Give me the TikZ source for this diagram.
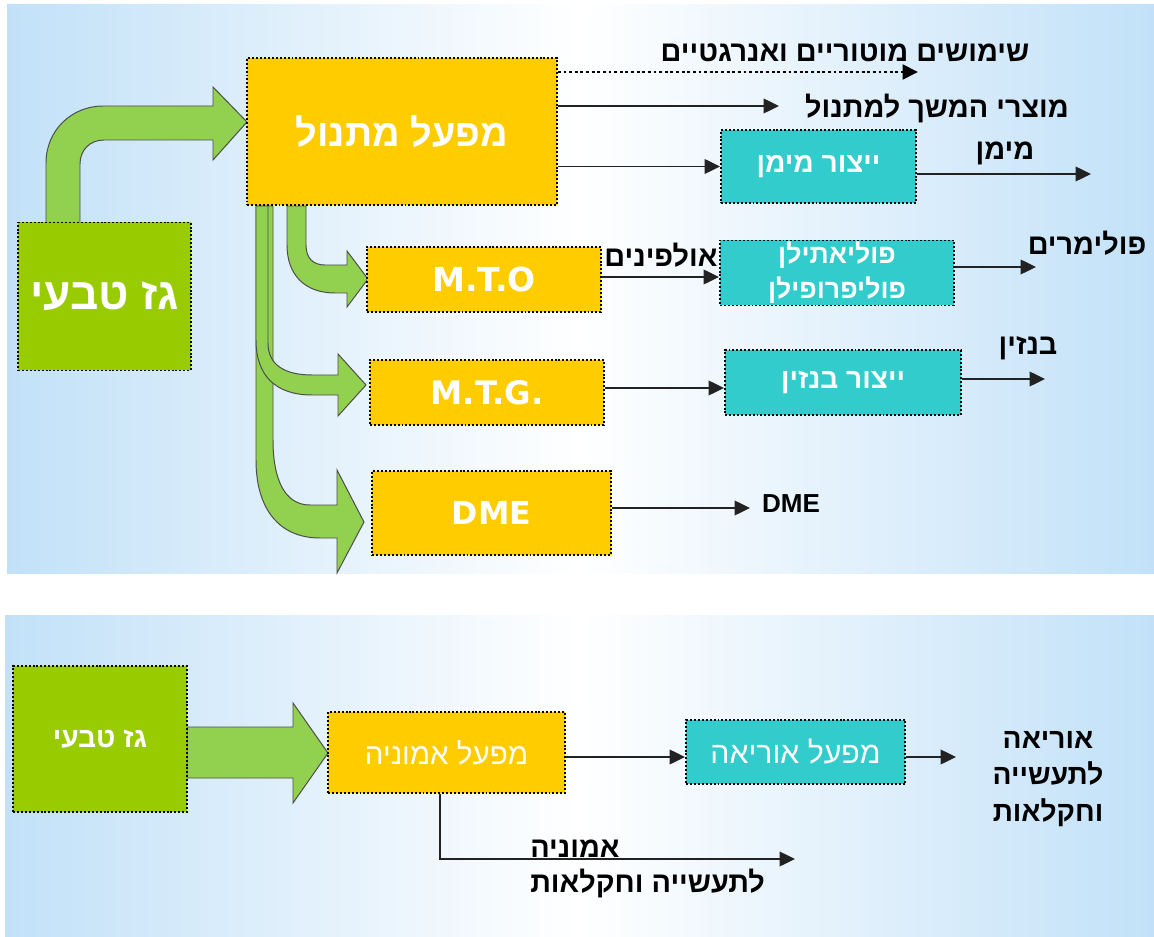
\documentclass[tikz,border=0pt]{standalone}
\usepackage{fontspec}
\setmainfont{Liberation Sans}
\newfontfamily\hebfont[Script=Hebrew]{Liberation Sans}
\newfontfamily\boxfont{DejaVu Sans}
\usetikzlibrary{arrows.meta}
\TeXXeTstate=1
\newcommand{\hebtxt}[1]{{\hebfont\beginR #1\endR}}

\definecolor{gasgreen}{HTML}{99CC00}
\definecolor{plantyellow}{HTML}{FFCC00}
\definecolor{unitteal}{HTML}{33CCCC}
\definecolor{flowgreen}{HTML}{92D050}
\definecolor{skyblue}{HTML}{C2E1F8}
\definecolor{linegray}{HTML}{222222}

\tikzset{
  box/.style={draw=black, line width=1.4pt, dash pattern=on 1.4pt off 1.4pt, text=white, inner sep=0pt, align=center},
  gasbox/.style={box, fill=gasgreen},
  plantbox/.style={box, fill=plantyellow},
  unitbox/.style={box, fill=unitteal},
  flow/.style={fill=flowgreen, draw=black!70, line width=0.7pt},
  line/.style={draw=linegray, line width=1pt, -{Triangle[length=11pt,width=10.5pt]}},
  lbl/.style={font=\bfseries\fontsize{20.5}{24}\selectfont, inner sep=0pt},
}

\begin{document}
\begin{tikzpicture}[x=0.025cm, y=-0.025cm]
\useasboundingbox (0,0) rectangle (1154,937);

% Fondos
\shade[left color=skyblue, right color=skyblue, middle color=white] (7,5) rectangle (1154,573);
\shade[left color=skyblue, right color=skyblue, middle color=white] (5,615) rectangle (1154,937);

% Flechas verdes
\draw[flow] (46,223) -- (46,163) .. controls (46,130) and (72,106) .. (103,106) -- (213,106)
  -- (213,87) -- (247,122) -- (213,160) -- (213,140) -- (104,140)
  .. controls (90,140) and (80,150) .. (80,164) -- (80,223) -- cycle;
\draw[flow] (256,206) -- (256,460) .. controls (256,510) and (280,538) .. (320,538) -- (337,538)
  -- (337,573) -- (364,522) -- (337,470) -- (337,505) -- (310,505)
  .. controls (285,505) and (273,480) .. (273,440) -- (273,206) -- cycle;
\draw[flow] (256,206) -- (256,340) .. controls (256,375) and (275,395) .. (312,395) -- (338,395)
  -- (338,416) -- (366,385) -- (338,354) -- (338,375) -- (312,375)
  .. controls (285,375) and (268,365) .. (268,343) -- (268,206) -- cycle;
\draw[flow] (287,206) -- (287,245) .. controls (287,275) and (305,293) .. (335,293) -- (347,293)
  -- (347,307) -- (368,279) -- (347,251) -- (347,265) -- (325,265)
  .. controls (313,265) and (306,258) .. (306,245) -- (306,206) -- cycle;
\draw[flow] (187,727) -- (293,727) -- (293,703) -- (328,753) -- (293,803) -- (293,778) -- (187,778) -- cycle;

% Cajas (parte de arriba)
\node[gasbox, minimum width=173*0.025cm, minimum height=148*0.025cm,
  font=\bfseries\fontsize{31.5}{34}\selectfont] (gastop) at (104.5,296.5) {\hebtxt{גז טבעי}};
\node[plantbox, minimum width=310*0.025cm, minimum height=147*0.025cm,
  font=\bfseries\fontsize{27}{30}\selectfont] (methanol) at (402,131.5) {\hebtxt{מפעל מתנול}};
\node[unitbox, minimum width=195*0.025cm, minimum height=73*0.025cm,
  font=\bfseries\fontsize{20}{23}\selectfont] (hydrogen) at (818.5,166.5) {\hebtxt{ייצור מימן}};
\node[plantbox, minimum width=234*0.025cm, minimum height=65*0.025cm,
  font=\boxfont\bfseries\fontsize{23.5}{26}\selectfont] (mto) at (484,279.5) {M.T.O};
\node[unitbox, minimum width=234*0.025cm, minimum height=65*0.025cm,
  font=\bfseries\fontsize{19}{25}\selectfont] (poly) at (837,273) {\hebtxt{פוליאתילן}\\\hebtxt{פוליפרופילן}};
\node[plantbox, minimum width=234*0.025cm, minimum height=65*0.025cm,
  font=\boxfont\bfseries\fontsize{23}{26}\selectfont] (mtg) at (487,392.5) {M.T.G.};
\node[unitbox, minimum width=236*0.025cm, minimum height=65*0.025cm,
  font=\bfseries\fontsize{20}{23}\selectfont] (gasoline) at (843,382.5) {\hebtxt{ייצור בנזין}};
\node[plantbox, minimum width=239*0.025cm, minimum height=84*0.025cm,
  font=\boxfont\bfseries\fontsize{22.5}{26}\selectfont] (dme) at (491.5,513) {DME};

% Salidas (parte de arriba)
\coordinate (motorend) at (918,72);
\coordinate (derivend) at (779,106);
\coordinate (hydroend) at (1091,174);
\coordinate (polyend) at (1036,267);
\coordinate (gasolend) at (1045,379);
\coordinate (dmeend) at (750,508);
\draw[line, draw=black, line width=2pt, dash pattern=on 2pt off 2pt] (methanol.east |- motorend) -- (motorend);
\draw[line] (methanol.east |- derivend) -- (derivend);
\draw[line] (methanol.east |- hydrogen.west) -- (hydrogen.west);
\draw[line] (hydrogen.east |- hydroend) -- (hydroend);
\draw[line] (mto.east |- 0,277) -- (poly.west |- 0,277);
\draw[line] (poly.east |- polyend) -- (polyend);
\draw[line] (mtg.east |- 0,388) -- (gasoline.west |- 0,388);
\draw[line] (gasoline.east |- gasolend) -- (gasolend);
\draw[line] (dme.east |- dmeend) -- (dmeend);

\node[lbl] (motorlbl) at (845,53) {\hebtxt{שימושים מוטוריים ואנרגטיים}};
\node[lbl] (derivlbl) at (937,108) {\hebtxt{מוצרי המשך למתנול}};
\node[lbl] (hydrolbl) at (1005,153) {\hebtxt{מימן}};
\node[lbl] (olefinlbl) at (661,255) {\hebtxt{אולפינים}};
\node[lbl] (polylbl) at (1087,243) {\hebtxt{פולימרים}};
\node[lbl] (gasollbl) at (1028,348) {\hebtxt{בנזין}};
\node[lbl, font=\bfseries\fontsize{18.5}{22}\selectfont] (dmelbl) at (791,504) {DME};

% Parte de abajo
\node[gasbox, minimum width=174*0.025cm, minimum height=146*0.025cm,
  font=\bfseries\fontsize{20}{23}\selectfont] (gasbot) at (100,739) {\hebtxt{גז טבעי}};
\node[plantbox, minimum width=237*0.025cm, minimum height=81*0.025cm,
  font=\fontsize{21}{24}\selectfont] (ammonia) at (446.5,752.5) {\hebtxt{מפעל אמוניה}};
\node[unitbox, minimum width=219*0.025cm, minimum height=64*0.025cm,
  font=\fontsize{21.5}{24}\selectfont] (urea) at (795.5,752) {\hebtxt{מפעל אוריאה}};

\coordinate (ureaend) at (956,757);
\coordinate (ammbend) at (440,859);
\coordinate (ammend) at (795,859);
\draw[line] (ammonia.east |- 0,757) -- (urea.west |- 0,757);
\draw[line] (urea.east |- ureaend) -- (ureaend);
\draw[line] (ammonia.south -| ammbend) -- (ammbend) -- (ammend);

\node[lbl, align=center, font=\bfseries\fontsize{20}{26}\selectfont] (urealbl) at (1048,779)
  {\hebtxt{אוריאה}\\\hebtxt{לתעשייה}\\\hebtxt{וחקלאות}};
\node[lbl, anchor=west] (ammlbl) at (530,849) {\hebtxt{אמוניה}};
\node[lbl, anchor=west] (ammuse) at (530,883) {\hebtxt{לתעשייה וחקלאות}};
\end{tikzpicture}
\end{document}
